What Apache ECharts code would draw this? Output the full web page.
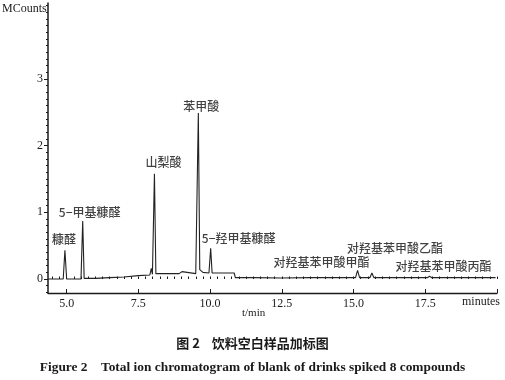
<!DOCTYPE html>
<html>
<head>
<meta charset="utf-8">
<script src="https://cdn.jsdelivr.net/npm/echarts@6/dist/echarts.min.js"></script>
<style>html,body{margin:0;padding:0;background:#fff}#c{width:505px;height:380px}</style>
</head>
<body>
<div id="c"></div>
<script>
// Chromatogram trace (retention time in min, intensity in MCounts)
const times  = [4.35,4.88,4.94,5.00,5.50,5.56,5.61,6.00,6.50,7.00,7.50,7.90,7.95,7.99,8.06,8.11,8.50,8.83,8.87,8.92,8.98,9.02,9.07,9.50,9.59,9.64,9.75,9.96,10.02,10.07,10.50,10.84,10.88,11.5,12.5,13.5,14.5,15.07,15.14,15.21,15.57,15.64,15.71,16.5,17.57,17.65,17.73,18.5,19.95];
const counts = [0.00,0.00,0.43,0.00,0.00,0.87,0.01,0.01,0.02,0.03,0.05,0.06,0.16,0.07,1.58,0.08,0.08,0.08,0.11,0.08,0.08,0.11,0.08,0.08,2.49,0.14,0.10,0.09,0.46,0.09,0.09,0.09,0.02,0.02,0.015,0.02,0.02,0.02,0.13,0.02,0.02,0.09,0.02,0.02,0.02,0.04,0.02,0.02,0.02];

// Peak annotations
const peakNames   = ['糠醛','5−甲基糠醛','山梨酸','苯甲酸','5−羟甲基糠醛','对羟基苯甲酸甲酯','对羟基苯甲酸乙酯','对羟基苯甲酸丙酯'];
const peakTimes   = [4.94,5.56,8.06,9.59,10.02,15.14,15.64,17.65];
const peakHeights = [0.43,0.87,1.58,2.49,0.46,0.13,0.09,0.04];

// Axis ticks
const xMajorTicks = [5,7.5,10,12.5,15,17.5,20];
const xTickLabels = ['5.0','7.5','10.0','12.5','15.0','17.5'];
const yMajorTicks = [0,1,2,3];
const yTickLabels = ['0','1','2','3'];

const X_MIN = 4.35, X_MAX = 20.0, Y_MIN = -0.21, Y_MAX = 4.14;
const xMinorTicks = []; for (let v = 4.5; v <= 20.001; v += 0.25) xMinorTicks.push(+v.toFixed(2));
const yMinorTicks = []; for (let v = -0.2; v <= 4.1001; v += 0.1) yMinorTicks.push(+v.toFixed(1));

const labelOffsets = [[-1,-11],[7,-9],[9,-11],[3,-7],[28,-10],[-36,-8],[23,-25],[14,-10]];

const serif = 'Liberation Serif';
const cjk = 'Noto Sans CJK SC';
const ink = '#1a1a1a';

const chart = echarts.init(document.getElementById('c'), null, {renderer:'canvas'});
chart.setOption({
  animation: false,
  backgroundColor: '#fff',
  grid: {left: 48, right: 8, top: 3, bottom: 87, containLabel: false},
  title: [
    {text: '图 2    饮料空白样品加标图', left: 'center', top: 332,
     textStyle: {fontFamily: cjk, fontWeight: 'bold', fontSize: 13, color: ink}},
    {text: 'Figure 2    Total ion chromatogram of blank of drinks spiked 8 compounds', left: 'center', top: 356,
     textStyle: {fontFamily: serif, fontWeight: 'bold', fontSize: 13.4, color: ink}}
  ],
  graphic: [
    {type: 'text', left: 2, top: 3, style: {text: 'MCounts', font: '12px "Liberation Serif"', fill: ink}},
    {type: 'text', left: 462, top: 296, style: {text: 'minutes', font: '12px "Liberation Serif"', fill: ink}},
    {type: 'text', left: 242, top: 308, style: {text: 't/min', font: '11px "Liberation Serif"', fill: ink}}
  ],
  xAxis: [
    {type: 'value', min: X_MIN, max: X_MAX, position: 'bottom',
     axisLine: {show: true, onZero: false, lineStyle: {color: ink, width: 1.3}},
     axisTick: {show: true, inside: true, length: 4, customValues: xMajorTicks, lineStyle: {color: ink}},
     axisLabel: {show: true, customValues: xMajorTicks.filter(v => v < 19), margin: 5,
                 formatter: v => xTickLabels[xMajorTicks.indexOf(v)] || '',
                 fontFamily: serif, fontSize: 12, color: ink},
     splitLine: {show: false}},
    {type: 'value', min: X_MIN, max: X_MAX, position: 'bottom',
     axisLine: {show: false},
     axisTick: {show: true, inside: true, length: 2.5, customValues: xMinorTicks, lineStyle: {color: ink}},
     axisLabel: {show: false}, splitLine: {show: false}}
  ],
  yAxis: [
    {type: 'value', min: Y_MIN, max: Y_MAX, position: 'left',
     axisLine: {show: true, onZero: false, lineStyle: {color: ink, width: 1.5}},
     axisTick: {show: true, length: 4, customValues: yMajorTicks, lineStyle: {color: ink}},
     axisLabel: {show: true, customValues: yMajorTicks, margin: 5,
                 formatter: v => yTickLabels[yMajorTicks.indexOf(v)] || '',
                 fontFamily: serif, fontSize: 12, color: ink},
     splitLine: {show: false}},
    {type: 'value', min: Y_MIN, max: Y_MAX, position: 'left',
     axisLine: {show: false},
     axisTick: {show: true, length: 2, customValues: yMinorTicks, lineStyle: {color: ink}},
     axisLabel: {show: false}, splitLine: {show: false}}
  ],
  series: [
    {type: 'line', xAxisIndex: 0, yAxisIndex: 0, showSymbol: false, symbol: 'none',
     lineStyle: {color: '#222', width: 1.1}, silent: true,
     data: times.map((t, i) => [t, counts[i]])},
    {type: 'scatter', xAxisIndex: 0, yAxisIndex: 0, symbolSize: 0, silent: true, z: 5,
     label: {show: true, position: 'inside', fontFamily: cjk, fontWeight: 500, fontSize: 12, color: '#111',
             formatter: p => peakNames[p.dataIndex]},
     data: peakTimes.map((t, i) => ({value: [t, peakHeights[i]], label: {offset: labelOffsets[i]}}))}
  ]
});
</script>
</body>
</html>
